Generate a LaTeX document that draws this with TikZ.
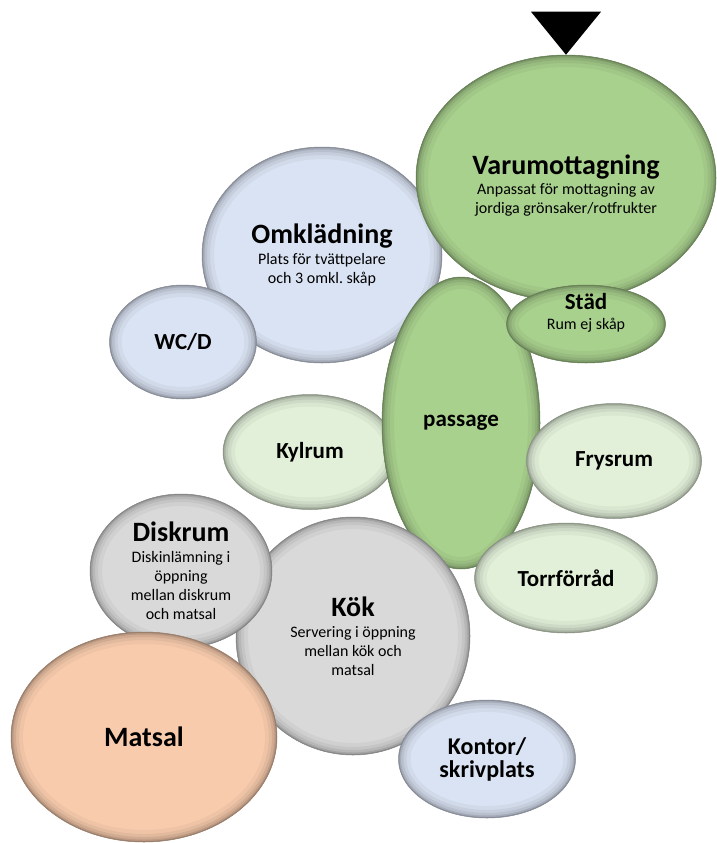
\documentclass[tikz,border=0pt]{standalone}
\usepackage{fontspec}
\setmainfont{Carlito}
\usetikzlibrary{shapes.geometric, calc}

\definecolor{grn}{HTML}{A9D18E}
\definecolor{lgrn}{HTML}{E2F0D9}
\definecolor{lblu}{HTML}{DAE3F3}
\definecolor{lgry}{HTML}{D9D9D9}
\definecolor{peach}{HTML}{F8CBAD}

\newcommand{\ttl}{\bfseries\fontsize{28}{32}\selectfont}
\newcommand{\ttm}{\bfseries\fontsize{23}{27}\selectfont}
\newcommand{\sml}{\fontsize{16}{19}\selectfont}
\frenchspacing

\begin{document}
\begin{tikzpicture}[x=1pt, y=-1pt,
  rim/.style={path picture={
    \path (path picture bounding box.center) coordinate (pc)
          (path picture bounding box.north east) coordinate (pne);
    \foreach \lw/\op in {24/0.04, 16/0.05, 10/0.07, 5/0.1, 2/0.15}
      \draw[line width=\lw, black, opacity=\op]
        let \p1 = ($(pne)-(pc)$) in (pc) ellipse [x radius=\x1, y radius=\y1];
  }},
  room/.style={ellipse, inner sep=0pt, align=center, font=\sml,
    fill=#1, draw=#1!60!black, line width=0.5pt, rim},
]
\useasboundingbox (0,0) rectangle (717,843);

% personnel side
\node[room=lblu, minimum width=240, minimum height=216] (omk) at (322,255)
  {{\ttl Omklädning}\\[2pt] Plats för tvättpelare\\ och 3 omkl. skåp};
\node[room=lblu, font=\ttm, minimum width=147, minimum height=114] (wcd) at (183,342) {WC/D};

% goods in
\node[room=grn, minimum width=300, minimum height=246] (varu) at (566,178) {};
\node[align=center, font=\sml] (varutxt) at (566,186)
  {{\ttl Varumottagning}\\[1pt] Anpassat för mottagning av\\ jordiga grönsaker/rotfrukter};
\fill (varu.north) -- ++(-35,-43) -- ++(70,0) -- cycle;

% storage round the passage
\node[room=lgrn, font=\ttm, minimum width=174, minimum height=115] (kyl) at (310,452) {Kylrum};
\node[room=grn, font=\ttm, minimum width=158, minimum height=292] (pass) at (461,423) {passage};
\node[room=grn, minimum width=159, minimum height=78] (stad) at (586,324) {};
\node[align=center, font=\sml] (stadtxt) at (586,313) {{\ttm Städ}\\[1pt] Rum ej skåp};
\node[room=lgrn, font=\ttm, minimum width=175, minimum height=115] (frys) at (614,461) {Frysrum};
\node[room=lgrn, font=\ttm, minimum width=183, minimum height=110] (torr) at (566,578) {Torrförråd};

% kitchen and dining
\node[room=lgry, minimum width=234, minimum height=238] (kok) at (353,636)
  {{\ttl Kök}\\[2pt] Servering i öppning\\ mellan kök och\\ matsal};
\node[room=lgry, minimum width=182, minimum height=154] (disk) at (181,571)
  {{\ttl Diskrum}\\[2pt] Diskinlämning i\\ öppning\\ mellan diskrum\\ och matsal};
\node[room=peach, font=\ttl, minimum width=266, minimum height=210] (mats) at (144,737) {Matsal};
\node[room=lblu, font=\bfseries\fontsize{24}{23}\selectfont, minimum width=177, minimum height=118] (kont) at (487,759)
  {Kontor/\\ skrivplats};
\end{tikzpicture}
\end{document}
